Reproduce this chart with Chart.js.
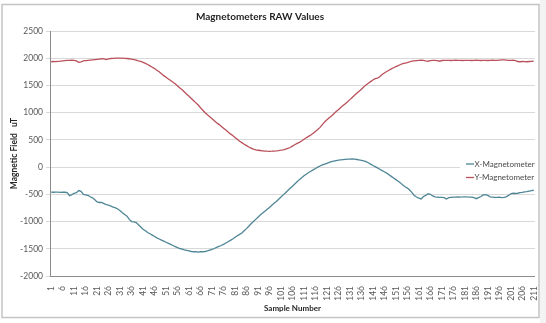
<!DOCTYPE html>
<html>
<head>
<meta charset="utf-8">
<script src="https://cdn.jsdelivr.net/npm/chart.js@4/dist/chart.umd.min.js"></script>
<style>
  html, body { margin: 0; padding: 0; background: #fff; }
  #wrap { width: 546px; height: 323px; position: relative; }
</style>
</head>
<body>
<div id="wrap"><canvas id="chart-mag"></canvas></div>
<script>
// sample numbers 1..211
const samples = Array.from({ length: 211 }, (_, i) => String(i + 1));

const xMagnetometer = [
    -460, -462, -458, -460, -465, -460, -462, -470, -525, -505,
    -480, -470, -430, -445, -500, -510, -520, -545, -565, -600,
    -640, -650, -650, -670, -690, -700, -715, -735, -750, -770,
    -800, -840, -870, -900, -960, -1000, -1005, -1020, -1060, -1100,
    -1140, -1170, -1200, -1225, -1250, -1275, -1300, -1320, -1340, -1360,
    -1380, -1400, -1420, -1440, -1460, -1480, -1495, -1505, -1520, -1530,
    -1540, -1550, -1555, -1555, -1560, -1555, -1555, -1550, -1540, -1525,
    -1510, -1495, -1475, -1455, -1440, -1420, -1395, -1370, -1345, -1320,
    -1290, -1260, -1235, -1210, -1170, -1130, -1085, -1040, -1000, -960,
    -920, -880, -845, -810, -775, -740, -700, -665, -630, -590,
    -550, -510, -470, -430, -390, -350, -310, -270, -230, -195,
    -160, -130, -100, -75, -50, -25, 0, 20, 40, 55,
    70, 85, 100, 110, 120, 128, 134, 138, 142, 145,
    148, 150, 147, 140, 132, 125, 115, 100, 80, 55,
    30, 10, -15, -40, -65, -85, -110, -140, -170, -200,
    -230, -260, -290, -330, -360, -385, -420, -470, -520, -550,
    -570, -585, -540, -520, -490, -500, -530, -545, -550, -555,
    -555, -560, -585, -560, -555, -550, -550, -545, -550, -548,
    -545, -548, -550, -552, -560, -580, -560, -540, -510, -505,
    -520, -545, -550, -555, -555, -550, -560, -555, -545, -520,
    -490, -480, -485, -480, -470, -465, -455, -450, -440, -430,
    -425
];

const yMagnetometer = [
    1935, 1940, 1938, 1942, 1945, 1950, 1955, 1960, 1962, 1965,
    1962, 1950, 1925, 1935, 1950, 1955, 1960, 1965, 1970, 1975,
    1980, 1985, 1990, 1988, 1975, 1990, 1995, 1998, 2000, 2002,
    2000, 2000, 1998, 1995, 1990, 1982, 1975, 1965, 1950, 1940,
    1925, 1905, 1885, 1860, 1835, 1810, 1780, 1750, 1715, 1680,
    1650, 1620, 1590, 1560, 1530, 1490, 1455, 1420, 1380, 1340,
    1300, 1260, 1220, 1180, 1140, 1090, 1045, 1000, 960, 925,
    890, 850, 815, 785, 750, 715, 680, 645, 610, 580,
    545, 510, 475, 450, 420, 395, 370, 350, 330, 315,
    310, 305, 300, 295, 292, 290, 292, 295, 298, 303,
    310, 318, 330, 345, 360, 385, 410, 435, 455, 480,
    510, 540, 565, 590, 620, 655, 690, 730, 780, 830,
    870, 905, 940, 980, 1020, 1055, 1095, 1130, 1165, 1200,
    1240, 1280, 1320, 1355, 1395, 1430, 1470, 1510, 1540, 1570,
    1600, 1625, 1635, 1660, 1700, 1730, 1755, 1780, 1805, 1825,
    1845, 1865, 1885, 1900, 1910, 1920, 1935, 1945, 1950, 1955,
    1960, 1965, 1960, 1950, 1945, 1955, 1960, 1960, 1955, 1945,
    1958, 1960, 1962, 1960, 1958, 1960, 1965, 1962, 1960, 1958,
    1960, 1962, 1960, 1958, 1960, 1963, 1960, 1958, 1962, 1960,
    1958, 1960, 1965, 1962, 1960, 1965, 1968, 1970, 1965, 1960,
    1960, 1965, 1955, 1940, 1935, 1940, 1938, 1935, 1940, 1942,
    1945
];

const seriesNames = ['X-Magnetometer', 'Y-Magnetometer'];
const seriesColors = ['#4f8696', '#b9505a'];

const textFont = 'Lato, "Open Sans", sans-serif';

// frame, title and the small legend box on the right, like the excel sheet
const excelDecor = {
    id: 'excelDecor',
    beforeDraw(chart) {
        const ctx = chart.ctx;
        ctx.save();
        ctx.fillStyle = '#ffffff';
        ctx.fillRect(0, 0, chart.width, chart.height);
        ctx.fillStyle = '#f3f3f3';
        ctx.fillRect(540, 0, chart.width - 540, chart.height);
        ctx.strokeStyle = '#c4c4c4';
        ctx.lineWidth = 1.5;
        ctx.strokeRect(2, 4.5, 537, 313);
        ctx.fillStyle = '#1f1f1f';
        ctx.font = 'bold 10px ' + textFont;
        ctx.textAlign = 'center';
        ctx.textBaseline = 'middle';
        ctx.fillText('Magnetometers RAW Values', 260, 17);
        ctx.restore();
    },
    afterDatasetsDraw(chart) {
        const ctx = chart.ctx;
        ctx.save();
        ctx.fillStyle = '#ffffff';
        ctx.fillRect(460, 157, 78, 28);
        ctx.font = '8px ' + textFont;
        ctx.textAlign = 'left';
        ctx.textBaseline = 'middle';
        seriesNames.forEach((name, i) => {
            const y = 164 + i * 13.5;
            ctx.strokeStyle = seriesColors[i];
            ctx.lineWidth = 1.3;
            ctx.beginPath();
            ctx.moveTo(466, y);
            ctx.lineTo(474, y);
            ctx.stroke();
            ctx.fillStyle = '#4a4a4a';
            ctx.fillText(name, 474.5, y);
        });
        ctx.restore();
    }
};

const chart = new Chart(document.getElementById('chart-mag'), {
    type: 'line',
    data: {
        labels: samples,
        datasets: [{
            label: seriesNames[0],
            data: xMagnetometer,
            borderColor: seriesColors[0],
            borderWidth: 1.3,
            pointRadius: 0,
            tension: 0
        }, {
            label: seriesNames[1],
            data: yMagnetometer,
            borderColor: seriesColors[1],
            borderWidth: 1.3,
            pointRadius: 0,
            tension: 0
        }]
    },
    plugins: [excelDecor],
    options: {
        responsive: true,
        maintainAspectRatio: false,
        animation: false,
        layout: { padding: { left: 2, right: 10, top: 31, bottom: 5 } },
        plugins: {
            legend: { display: false },
            tooltip: { enabled: false }
        },
        scales: {
            x: {
                offset: true,
                grid: { display: false },
                border: { display: true, color: '#8c8c8c' },
                ticks: {
                    autoSkip: false,
                    minRotation: 90,
                    maxRotation: 90,
                    padding: 2,
                    color: '#595959',
                    font: { family: textFont, size: 8.5 },
                    callback: function (val, idx) {
                        return idx % 5 === 0 ? this.getLabelForValue(val) : '';
                    }
                },
                title: {
                    display: true,
                    text: 'Sample Number',
                    color: '#262626',
                    font: { family: textFont, size: 8, weight: 'bold' },
                    padding: { top: 0, bottom: 5 }
                },
                afterFit(scale) { scale.height = 42; }
            },
            y: {
                min: -2000,
                max: 2500,
                grid: { color: '#d9d9d9', tickLength: 4 },
                border: { display: true, color: '#8c8c8c' },
                ticks: {
                    stepSize: 500,
                    padding: 3,
                    color: '#595959',
                    font: { family: textFont, size: 8.5 },
                    callback: (v) => String(v)
                },
                title: {
                    display: true,
                    text: 'Magnetic Field   uT',
                    color: '#262626',
                    font: { family: textFont, size: 8.5, weight: 'bold' },
                    padding: { top: 7, bottom: 0 }
                },
                afterFit(scale) { scale.width = 48; }
            }
        }
    }
});
</script>
</body>
</html>
